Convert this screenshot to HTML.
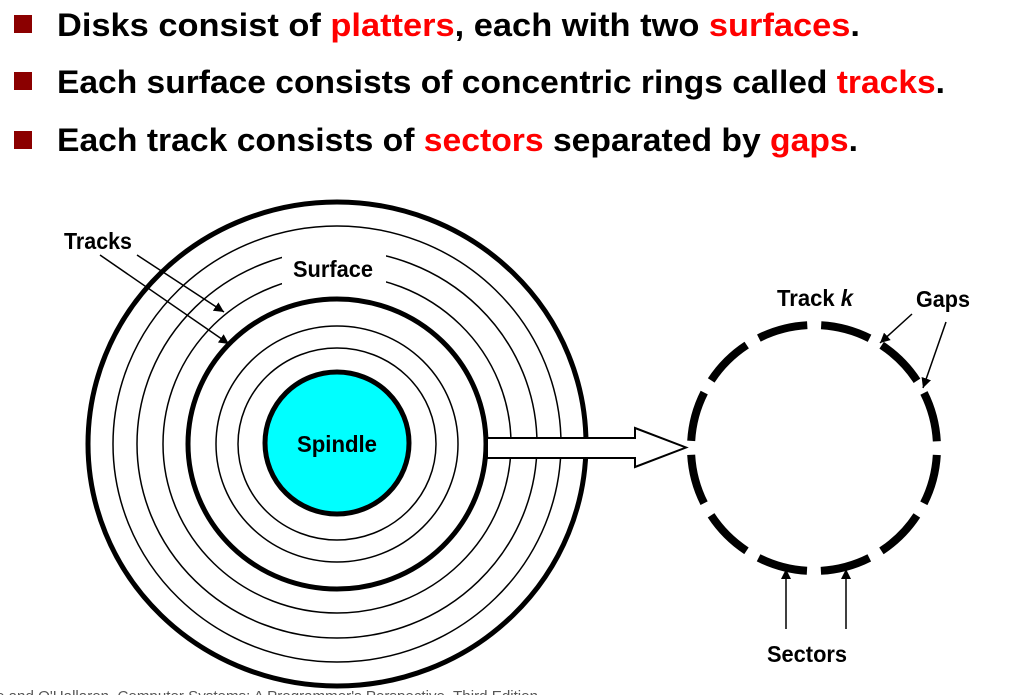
<!DOCTYPE html>
<html><head><meta charset="utf-8"><style>
html,body{margin:0;padding:0;background:#fff;width:1031px;height:695px;overflow:hidden}
svg{display:block}
.h{font-family:"Liberation Sans",sans-serif;font-weight:bold;font-size:32px;fill:#000}
.r{fill:#ff0000}
.l{font-family:"Liberation Sans",sans-serif;font-weight:bold;font-size:23px;fill:#000}
</style></head><body>
<svg width="1031" height="695" viewBox="0 0 1031 695" xmlns="http://www.w3.org/2000/svg">
<defs>
<marker id="a" viewBox="0 0 10 10" refX="10" refY="5" markerWidth="10" markerHeight="10" markerUnits="userSpaceOnUse" orient="auto"><path d="M0,0 L10,5 L0,10 z" fill="#000"/></marker>
</defs>
<rect x="14" y="15" width="18" height="18" fill="#8b0000"/>
<rect x="14" y="72" width="18" height="18" fill="#8b0000"/>
<rect x="14" y="131" width="18" height="18" fill="#8b0000"/>
<text class="h" x="57" y="36" textLength="803" lengthAdjust="spacingAndGlyphs">Disks consist of <tspan class="r">platters</tspan>, each with two <tspan class="r">surfaces</tspan>.</text>
<text class="h" x="57" y="93" textLength="888" lengthAdjust="spacingAndGlyphs">Each surface consists of concentric rings called <tspan class="r">tracks</tspan>.</text>
<text class="h" x="57" y="151" textLength="801" lengthAdjust="spacingAndGlyphs">Each track consists of <tspan class="r">sectors</tspan> separated by <tspan class="r">gaps</tspan>.</text>

<g fill="none" stroke="#000">
<ellipse cx="337" cy="444" rx="249" ry="242" stroke-width="5"/>
<ellipse cx="337" cy="444" rx="224" ry="218" stroke-width="1.5"/>
<ellipse cx="337" cy="444" rx="200" ry="194" stroke-width="1.5"/>
<ellipse cx="337" cy="444" rx="174" ry="169" stroke-width="1.5"/>
<ellipse cx="337" cy="444" rx="121" ry="118" stroke-width="1.5"/>
<ellipse cx="337" cy="444" rx="99" ry="96" stroke-width="1.5"/>
</g>
<rect x="282" y="248" width="104" height="42" fill="#fff"/>
<ellipse cx="337" cy="444" rx="149" ry="145" fill="none" stroke="#000" stroke-width="5"/>
<ellipse cx="337" cy="443" rx="72" ry="71" fill="#00ffff" stroke="#000" stroke-width="5"/>
<text class="l" x="337" y="452" text-anchor="middle" textLength="80" lengthAdjust="spacingAndGlyphs">Spindle</text>
<text class="l" x="333" y="277" text-anchor="middle" textLength="80" lengthAdjust="spacingAndGlyphs">Surface</text>

<path d="M487,438 L635,438 L635,428 L686,447.5 L635,467 L635,458 L487,458 Z" fill="#fff" stroke="#000" stroke-width="2"/>

<text class="l" x="98" y="249" text-anchor="middle" textLength="68" lengthAdjust="spacingAndGlyphs">Tracks</text>
<line x1="137" y1="255" x2="224" y2="312" stroke="#000" stroke-width="1.5" marker-end="url(#a)"/>
<line x1="100" y1="255" x2="229" y2="344" stroke="#000" stroke-width="1.5" marker-end="url(#a)"/>

<circle cx="814" cy="448" r="123" fill="none" stroke="#000" stroke-width="8" stroke-dasharray="50.4 14" stroke-dashoffset="57.4"/>
<text class="l" x="815" y="306" text-anchor="middle" textLength="76" lengthAdjust="spacingAndGlyphs">Track <tspan font-style="italic">k</tspan></text>
<text class="l" x="943" y="307" text-anchor="middle" textLength="54" lengthAdjust="spacingAndGlyphs">Gaps</text>
<line x1="912" y1="314" x2="880" y2="343" stroke="#000" stroke-width="1.5" marker-end="url(#a)"/>
<line x1="946" y1="322" x2="923" y2="388" stroke="#000" stroke-width="1.5" marker-end="url(#a)"/>
<line x1="786" y1="629" x2="786" y2="569" stroke="#000" stroke-width="1.5" marker-end="url(#a)"/>
<line x1="846" y1="629" x2="846" y2="569" stroke="#000" stroke-width="1.5" marker-end="url(#a)"/>
<text class="l" x="807" y="662" text-anchor="middle" textLength="80" lengthAdjust="spacingAndGlyphs">Sectors</text>

<text x="-4" y="701" font-family="Liberation Sans, sans-serif" font-size="15" fill="#555" textLength="542" lengthAdjust="spacingAndGlyphs">e and O'Hallaron, Computer Systems: A Programmer's Perspective, Third Edition</text>
</svg>
</body></html>
